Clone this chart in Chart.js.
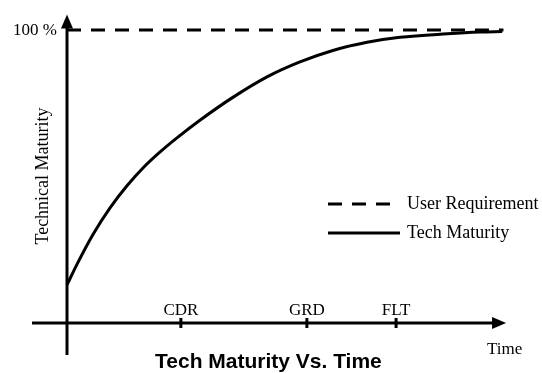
<!DOCTYPE html>
<html>
<head>
<meta charset="utf-8">
<script src="https://cdn.jsdelivr.net/npm/chart.js@4/dist/chart.umd.min.js"></script>
<style>
html,body{margin:0;padding:0;background:#fff;}
#wrap{width:542px;height:373px;}
</style>
</head>
<body>
<div id="wrap"><canvas id="c" width="542" height="373"></canvas></div>
<script>
// ---- data ----
const timeValues = [0, 2.3, 6.0, 9.9, 13.9, 17.6, 21.5, 25.4, 30.7, 38.3, 46.2, 53.8, 61.4, 69.3, 76.9, 87.8, 95.4, 100.5];
const maturityValues = [13.0, 20.0, 30.2, 39.2, 46.9, 53.0, 58.4, 63.2, 69.2, 77.0, 84.0, 89.1, 93.0, 95.8, 97.5, 98.7, 99.3, 99.5];
const requirementTimes = [0, 100.8];
const requirementValues = [100, 100];
const milestoneLabels = ['CDR', 'GRD', 'FLT'];
const milestoneTimes = [26.3, 55.4, 76.0];
const seriesNames = ['User Requirement', 'Tech Maturity'];
const yTickLabel = '100 %';
const yTickValue = 100;
const yAxisTitle = 'Technical Maturity';
const xAxisTitle = 'Time';
const chartTitle = 'Tech Maturity Vs. Time';

const SERIF = '"Liberation Serif", "Times New Roman", serif';
const SANS = '"Liberation Sans", Arial, sans-serif';

const decor = {
  id: 'decor',
  beforeDatasetsDraw(chart) {
    const ctx = chart.ctx;
    const xs = chart.scales.x, ys = chart.scales.y;
    const x0 = xs.getPixelForValue(0), y0 = ys.getPixelForValue(0);
    ctx.save();
    ctx.strokeStyle = '#000';
    ctx.fillStyle = '#000';
    ctx.lineWidth = 3;
    ctx.lineCap = 'butt';
    // y axis
    const yTop = ys.getPixelForValue(105.3);
    ctx.beginPath();
    ctx.moveTo(x0, chart.chartArea.bottom);
    ctx.lineTo(x0, yTop + 8);
    ctx.stroke();
    ctx.beginPath();
    ctx.moveTo(x0, yTop);
    ctx.lineTo(x0 - 6, yTop + 14);
    ctx.lineTo(x0 + 6, yTop + 14);
    ctx.closePath();
    ctx.fill();
    // x axis
    const xTip = xs.getPixelForValue(101.4);
    ctx.beginPath();
    ctx.moveTo(chart.chartArea.left, y0);
    ctx.lineTo(xTip - 8, y0);
    ctx.stroke();
    ctx.beginPath();
    ctx.moveTo(xTip, y0);
    ctx.lineTo(xTip - 14, y0 - 6);
    ctx.lineTo(xTip - 14, y0 + 6);
    ctx.closePath();
    ctx.fill();
    // milestones
    ctx.font = '17px ' + SERIF;
    ctx.textAlign = 'center';
    ctx.textBaseline = 'alphabetic';
    milestoneTimes.forEach((t, i) => {
      const px = xs.getPixelForValue(t);
      ctx.beginPath();
      ctx.moveTo(px, y0 - 5);
      ctx.lineTo(px, y0 + 5);
      ctx.stroke();
      ctx.fillText(milestoneLabels[i], px, y0 - 8);
    });
    // y tick label
    ctx.textAlign = 'right';
    ctx.textBaseline = 'middle';
    ctx.fillText(yTickLabel, x0 - 10, ys.getPixelForValue(yTickValue) + 1);
    // y axis title
    ctx.save();
    ctx.translate(43, 176);
    ctx.rotate(-Math.PI / 2);
    ctx.textAlign = 'center';
    ctx.textBaseline = 'middle';
    ctx.font = '18px ' + SERIF;
    ctx.fillText(yAxisTitle, 0, 0);
    ctx.restore();
    // x axis title
    ctx.font = '17px ' + SERIF;
    ctx.textAlign = 'left';
    ctx.textBaseline = 'middle';
    ctx.fillText(xAxisTitle, 487, 350);
    // chart title
    ctx.font = 'bold 21px ' + SANS;
    ctx.textAlign = 'left';
    ctx.textBaseline = 'alphabetic';
    ctx.fillText(chartTitle, 155, 368);
    // legend
    const ds = chart.data.datasets;
    const legendRows = [{ds: ds[0], y: 204}, {ds: ds[1], y: 233}];
    ctx.font = '18px ' + SERIF;
    ctx.textBaseline = 'middle';
    legendRows.forEach(r => {
      ctx.save();
      ctx.lineWidth = r.ds.borderWidth;
      ctx.setLineDash(r.ds.borderDash || []);
      ctx.beginPath();
      ctx.moveTo(328, r.y);
      ctx.lineTo(r.ds.borderDash ? 392 : 400, r.y);
      ctx.stroke();
      ctx.restore();
      ctx.fillText(r.ds.label, 407, r.y);
    });
    ctx.restore();
  }
};

const toPts = (xsArr, ysArr) => xsArr.map((x, i) => ({x: x, y: ysArr[i]}));

new Chart(document.getElementById('c'), {
  type: 'line',
  data: {
    datasets: [
      {
        label: seriesNames[0],
        data: toPts(requirementTimes, requirementValues),
        borderColor: '#000',
        borderWidth: 3,
        borderDash: [14, 10],
        pointRadius: 0,
        fill: false
      },
      {
        label: seriesNames[1],
        data: toPts(timeValues, maturityValues),
        borderColor: '#000',
        borderWidth: 3,
        cubicInterpolationMode: 'monotone',
        pointRadius: 0,
        fill: false
      }
    ]
  },
  options: {
    responsive: false,
    animation: false,
    devicePixelRatio: 1,
    layout: {padding: {left: 32, right: 36, top: 12, bottom: 18}},
    plugins: {legend: {display: false}, title: {display: false}, tooltip: {enabled: false}},
    scales: {
      x: {type: 'linear', display: false, min: -8.083, max: 101.386},
      y: {type: 'linear', display: false, min: -10.92, max: 106.14}
    }
  },
  plugins: [decor]
});
</script>
</body>
</html>
